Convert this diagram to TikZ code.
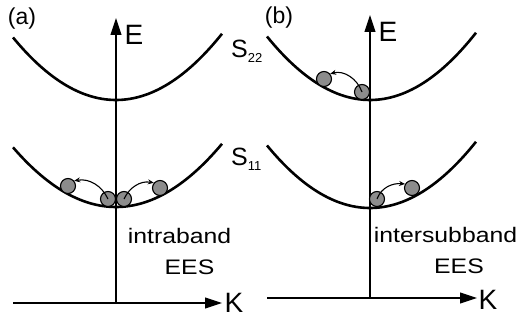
\documentclass[tikz,border=0pt]{standalone}
\usepackage{fontspec}
\setmainfont{Liberation Sans}
\newfontfamily\widefont[FakeStretch=1.18]{Liberation Sans}
\usetikzlibrary{arrows.meta}

\tikzset{
  band/.style={line width=2.6pt},
  axis/.style={line width=1.1pt, -{Triangle[length=17pt,width=11pt]}},
  electron/.style={circle, draw, line width=1.1pt, fill=black!45, minimum size=15pt, inner sep=0pt},
  hop/.style={line width=1.1pt, -{Stealth[length=6pt,width=5pt]}},
  axlabel/.style={font=\fontsize{28}{28}\selectfont, inner sep=0pt},
  panellabel/.style={font=\fontsize{23}{23}\selectfont, inner sep=0pt},
  sublabel/.style={font=\fontsize{25}{25}\selectfont, inner sep=0pt, anchor=base west},
  bandtext/.style={font=\widefont\fontsize{21}{21}\selectfont, inner sep=0pt}
}
\newcommand{\subidx}[1]{\raisebox{-5pt}{\fontsize{13}{13}\selectfont #1}}

\begin{document}
\begin{tikzpicture}[x=1pt, y=1pt]
    \useasboundingbox (0,0) rectangle (521,-320);

    % Axes of panel (a)
    \coordinate (oA) at (116,-303);
    \coordinate (eTipA) at (116,-18);
    \coordinate (kStartA) at (13,-303);
    \coordinate (kTipA) at (222,-303);
    \draw[axis] (oA) -- (eTipA);
    \draw[axis] (kStartA) -- (kTipA);

    % Axes of panel (b)
    \coordinate (oB) at (370,-298);
    \coordinate (eTipB) at (370,-15);
    \coordinate (kStartB) at (267,-298);
    \coordinate (kTipB) at (477,-298);
    \draw[axis] (oB) -- (eTipB);
    \draw[axis] (kStartB) -- (kTipB);

    % Subbands S22 and S11
    \draw[band] plot[domain=-103:106, samples=60] ({116+\x},{-100+65*(\x/105)^2});
    \draw[band] plot[domain=-103:106, samples=60] ({116+\x},{-207+62*(\x/105)^2});
    \draw[band] plot[domain=-103:106, samples=60] ({370+\x},{-100+66*(\x/105)^2});
    \draw[band] plot[domain=-103:106, samples=60] ({370+\x},{-208+65*(\x/105)^2});

    % Labels
    \node[panellabel] (pa) at (22,-19) {(a)};
    \node[panellabel] (pb) at (279,-18) {(b)};
    \node[axlabel] (eA) at (134,-35) {E};
    \node[axlabel] (kA) at (234,-303) {K};
    \node[axlabel] (eB) at (388,-32) {E};
    \node[axlabel] (kB) at (488,-300) {K};
    \node[sublabel] (s22) at (231,-58) {S\subidx{22}};
    \node[sublabel] (s11) at (231,-166) {S\subidx{11}};
    \node[bandtext] (intra) at (179.5,-236) {intraband};
    \node[bandtext] (eesA) at (189.5,-267.5) {EES};
    \node[bandtext] (inter) at (445.5,-234.5) {intersubband};
    \node[bandtext] (eesB) at (459,-266.5) {EES};

    % Electrons, intraband scattering
    \node[electron] (eAL) at (68,-186) {};
    \node[electron] (eAC1) at (108,-199) {};
    \node[electron] (eAC2) at (124,-199) {};
    \node[electron] (eAR) at (160,-188) {};
    \draw[hop] (eAC1.center) to[out=115, in=10] (eAL.40);
    \draw[hop] (eAC2.center) to[out=65, in=170] (eAR.140);

    % Electrons, intersubband scattering
    \node[electron] (eBU1) at (324,-79) {};
    \node[electron] (eBU2) at (362,-92) {};
    \node[electron] (eBL1) at (377,-199) {};
    \node[electron] (eBL2) at (412,-188) {};
    \draw[hop] (eBU2.center) to[out=110, in=15] (eBU1.40);
    \draw[hop] (eBL1.center) to[out=70, in=175] (eBL2.150);

\end{tikzpicture}
\end{document}
